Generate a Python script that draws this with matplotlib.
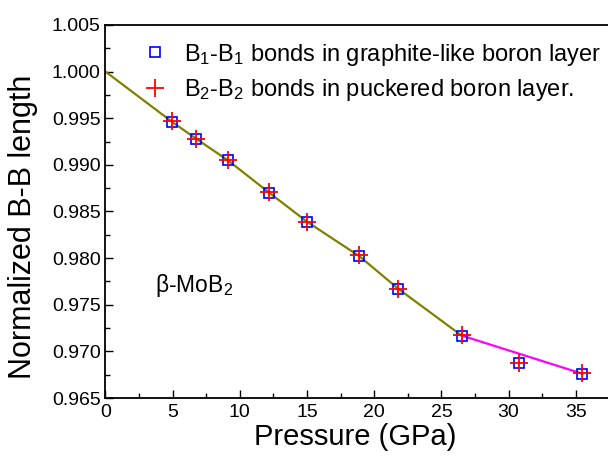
import matplotlib.pyplot as plt

plt.rcParams['font.family'] = ['Liberation Sans', 'DejaVu Sans']
plt.rcParams['mathtext.default'] = 'regular'

# data
pressure = [4.97, 6.75, 9.1, 12.2, 15.0, 18.9, 21.8, 26.5, 30.8, 35.5]
b1_length = [0.9946, 0.9928, 0.9905, 0.9870, 0.9839, 0.9802, 0.9767, 0.9717, 0.9687, 0.9676]
b2_length = [0.9947, 0.9928, 0.9905, 0.9871, 0.9839, 0.9803, 0.9767, 0.9718, 0.9688, 0.9677]

# fitted lines
fit1_p = [0, 4.97, 6.75, 9.1, 12.2, 15.0, 18.9, 21.8, 26.5]
fit1_v = [1.0, 0.9946, 0.9928, 0.9905, 0.9870, 0.9839, 0.9802, 0.9767, 0.9717]
fit2_p = [26.5, 35.5]
fit2_v = [0.9717, 0.9676]

fig = plt.figure(figsize=(6.08, 4.57), dpi=100)
ax = fig.add_axes([0.1735, 0.1291, 0.884, 0.8162])

ax.plot(fit1_p, fit1_v, color='#808000', lw=1.6, zorder=2)
ax.plot(fit2_p, fit2_v, color='#ff00ff', lw=1.6, zorder=2)
ax.plot(pressure, b1_length, ls='none', marker='s', ms=7.5, mfc='none', mec='blue', mew=1.2,
        label='B$_1$-B$_1$ bonds in graphite-like boron layer', zorder=3)
ax.plot(pressure, b2_length, ls='none', marker='+', ms=13, mec='red', mew=1.3,
        label='B$_2$-B$_2$ bonds in puckered boron layer.', zorder=4)

ax.set_xlim(0, 40)
ax.set_ylim(0.965, 1.005)
ax.set_xticks([0, 5, 10, 15, 20, 25, 30, 35])
ax.set_xticks([2.5, 7.5, 12.5, 17.5, 22.5, 27.5, 32.5, 37.5], minor=True)
ax.set_yticks([0.965, 0.970, 0.975, 0.980, 0.985, 0.990, 0.995, 1.000, 1.005])
ax.set_yticks([0.9675, 0.9725, 0.9775, 0.9825, 0.9875, 0.9925, 0.9975, 1.0025], minor=True)
ax.set_yticklabels(['%.3f' % v for v in ax.get_yticks()])
ax.tick_params(which='both', direction='in', labelsize=14)
ax.tick_params(which='major', length=6, width=1)
ax.tick_params(which='minor', length=3.5, width=1)
ax.tick_params(axis='x', pad=4)
for s in ax.spines.values():
    s.set_linewidth(1.3)

ax.set_xlabel('Pressure (GPa)', fontsize=21)
ax.xaxis.set_label_coords(0.465, -0.068)
ax.set_ylabel('Normalized B-B length', fontsize=22)
ax.yaxis.set_label_coords(-0.125, 0.46)
ax.text(6.6, 0.9771, r'$\beta$-MoB$_2$', fontsize=16.5, ha='center', va='center')

ax.legend(loc='upper left', bbox_to_anchor=(0.029, 1.0), frameon=False, fontsize=17,
          handlelength=1.5, handletextpad=0.45, borderaxespad=0.3, labelspacing=0.4)

fig.savefig('out.png', dpi=100)
